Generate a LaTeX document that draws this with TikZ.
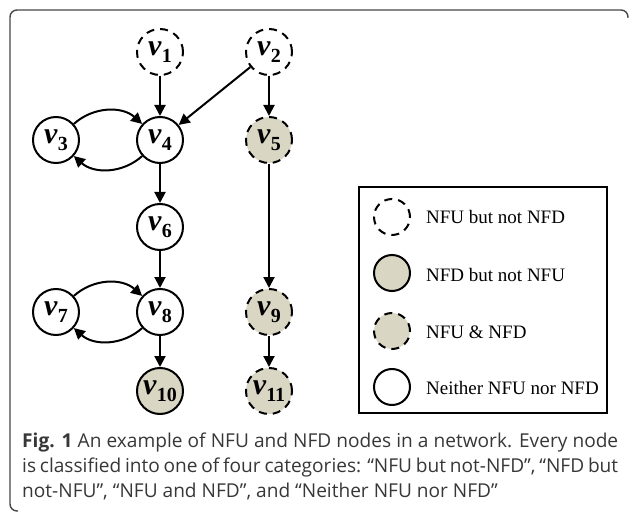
\documentclass[tikz,border=0pt]{standalone}
\usepackage{fontspec}
\setmainfont{Liberation Serif}
\newfontfamily\capfont{Open Sans}
\usetikzlibrary{arrows.meta}

% node label: bold italic v with bold subscript
\newcommand{\vsub}[1]{\textbf{\textit{v}}\raisebox{-7pt}{\fontsize{20}{20}\selectfont\textbf{#1}}}

\begin{document}
\begin{tikzpicture}[x=1pt,y=-1pt,
	vnode/.style={circle,draw,line width=2pt,minimum size=46pt,inner sep=0pt,font=\fontsize{30}{30}\selectfont},
	nfu/.style={vnode,dash pattern=on 8pt off 6pt},
	nfd/.style={vnode,fill=nfdcolor},
	nfuboth/.style={vnode,fill=nfdcolor,dash pattern=on 8pt off 6pt},
	link/.style={line width=2pt,-{Triangle[length=11pt,width=11pt]}},
	keynode/.style={circle,draw,line width=2pt,minimum size=36pt,inner sep=0pt},
	keytext/.style={anchor=base west,inner sep=0pt,font=\fontsize{19}{19}\selectfont},
	captionline/.style={anchor=base west,inner sep=0pt,text=captext,font=\capfont\fontsize{19.1}{19.1}\selectfont}]
	% Define colors
	\definecolor{nfdcolor}{RGB}{218, 214, 196}
	\definecolor{framecolor}{RGB}{70, 70, 70}
	\definecolor{captext}{RGB}{55, 55, 55}
	
	\useasboundingbox (0,0) rectangle (629,513);
	
	% Figure frame (top and left only)
	\draw[framecolor,line width=1.4pt,rounded corners=7pt] (18,511) -- (10,511) -- (10,10) -- (628,10) -- (628,18);
	
	% Nodes
	\node[nfu] (v1) at (160,52) {\vsub{1}};
	\node[nfu] (v2) at (269,52) {\vsub{2}};
	\node[vnode] (v3) at (56,140) {\vsub{3}};
	\node[vnode] (v4) at (160,140) {\vsub{4}};
	\node[nfuboth] (v5) at (269,140) {\vsub{5}};
	\node[vnode] (v6) at (160,227) {\vsub{6}};
	\node[vnode] (v7) at (56,312) {\vsub{7}};
	\node[vnode] (v8) at (160,312) {\vsub{8}};
	\node[nfuboth] (v9) at (269,312) {\vsub{9}};
	\node[nfd] (v10) at (160,391) {\vsub{10}};
	\node[nfuboth] (v11) at (269,391) {\vsub{11}};
	
	% Edges
	\draw[link] (v1) -- (v4);
	\draw[link] (v2) -- (v4);
	\draw[link] (v2) -- (v5);
	\draw[link] (v3) to[bend left=42] (v4);
	\draw[link] (v4) to[bend left=42] (v3);
	\draw[link] (v4) -- (v6);
	\draw[link] (v6) -- (v8);
	\draw[link] (v5) -- (v9);
	\draw[link] (v7) to[bend left=42] (v8);
	\draw[link] (v8) to[bend left=42] (v7);
	\draw[link] (v8) -- (v10);
	\draw[link] (v9) -- (v11);
	
	% Legend
	\draw[line width=2pt] (359,187) rectangle (607,413);
	\node[keynode,dash pattern=on 8pt off 6pt] (k1) at (392,217) {};
	\node[keynode,fill=nfdcolor] (k2) at (392,273) {};
	\node[keynode,fill=nfdcolor,dash pattern=on 8pt off 6pt] (k3) at (392,331) {};
	\node[keynode] (k4) at (392,387) {};
	\node[keytext] (t1) at (426,224) {NFU but not NFD};
	\node[keytext] (t2) at (426,281) {NFD but not NFU};
	\node[keytext] (t3) at (426,338) {NFU \& NFD};
	\node[keytext] (t4) at (426,394) {Neither NFU nor NFD};
	
	% Caption (first two lines justified)
	\node[captionline] (c1) at (22,447) {\makebox[596pt][s]{\textbf{Fig. 1} An example of NFU and NFD nodes in a network. Every node}};
	\node[captionline] (c2) at (22,472) {\makebox[596pt][s]{is classified into one of four categories: “NFU but not-NFD”, “NFD but}};
	\node[captionline] (c3) at (22,497) {not-NFU”, “NFU and NFD”, and “Neither NFU nor NFD”};
\end{tikzpicture}
\end{document}
